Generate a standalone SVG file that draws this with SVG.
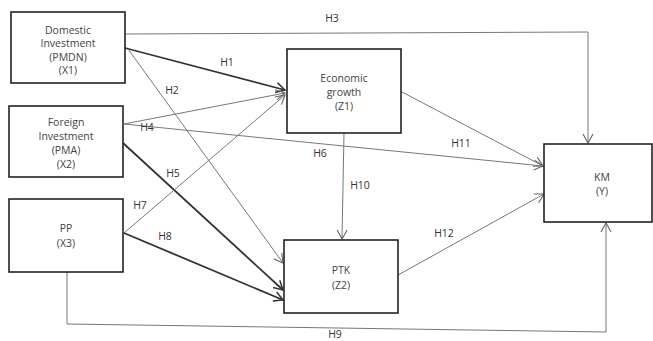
<svg xmlns="http://www.w3.org/2000/svg" width="653" height="341" viewBox="0 0 653 341">
<style>
.box{fill:#fff;stroke:#222;stroke-width:1.6}
.t{font-family:"Open Sans","Liberation Sans",sans-serif;font-size:10.5px;fill:#444;text-anchor:middle}
.l{font-family:"Open Sans","Liberation Sans",sans-serif;font-size:10.5px;fill:#333;text-anchor:middle}
.thin{fill:none;stroke:#777;stroke-width:1}
.thick{fill:none;stroke:#333;stroke-width:1.8}
</style>
<defs>
<marker id="a" markerWidth="12" markerHeight="12" refX="10" refY="6" orient="auto" markerUnits="userSpaceOnUse">
<path d="M1,1 L10,6 L1,11" fill="none" stroke="#666" stroke-width="1.1"/>
</marker>
<marker id="ak" markerWidth="12" markerHeight="12" refX="10" refY="6" orient="auto" markerUnits="userSpaceOnUse">
<path d="M1,1 L10,6 L1,11" fill="none" stroke="#333" stroke-width="1.5"/>
</marker>
</defs>
<g id="connectors">
<polyline class="thin" points="125,34 588,32 588,143" marker-end="url(#a)"/>
<line class="thick" x1="125" y1="48" x2="285" y2="90" marker-end="url(#ak)"/>
<line class="thin" x1="128" y1="49" x2="283" y2="263" marker-end="url(#a)"/>
<line class="thin" x1="124" y1="124" x2="285" y2="93" marker-end="url(#a)"/>
<line class="thin" x1="124" y1="124" x2="543" y2="166" marker-end="url(#a)"/>
<line class="thick" x1="123" y1="143" x2="283" y2="290" marker-end="url(#ak)"/>
<line class="thin" x1="124" y1="233" x2="285" y2="95" marker-end="url(#a)"/>
<line class="thick" x1="124" y1="233" x2="283" y2="300" marker-end="url(#ak)"/>
<polyline class="thin" points="67,272 67,324 606,332 606,223" marker-end="url(#a)"/>
<line class="thin" x1="344" y1="133" x2="342" y2="239" marker-end="url(#a)"/>
<line class="thin" x1="402" y1="92" x2="543" y2="166" marker-end="url(#a)"/>
<line class="thin" x1="398" y1="275" x2="544" y2="194" marker-end="url(#a)"/>
<text class="l" x="227" y="66">H1</text>
<text class="l" x="172" y="94">H2</text>
<text class="l" x="332" y="22">H3</text>
<text class="l" x="147" y="131">H4</text>
<text class="l" x="173" y="177">H5</text>
<text class="l" x="320" y="157">H6</text>
<text class="l" x="140" y="209">H7</text>
<text class="l" x="165" y="240">H8</text>
<text class="l" x="335" y="338">H9</text>
<text class="l" x="360" y="189">H10</text>
<text class="l" x="461" y="147">H11</text>
<text class="l" x="444" y="237">H12</text>
</g>
<g id="X1">
<rect class="box" x="11" y="12" width="114" height="71"/>
<text class="t" x="68" y="34">Domestic</text>
<text class="t" x="68" y="47">Investment</text>
<text class="t" x="68" y="61">(PMDN)</text>
<text class="t" x="68" y="74">(X1)</text>
</g>
<g id="X2">
<rect class="box" x="9" y="106" width="114" height="71"/>
<text class="t" x="66" y="126">Foreign</text>
<text class="t" x="66" y="140">Investment</text>
<text class="t" x="66" y="154">(PMA)</text>
<text class="t" x="66" y="168">(X2)</text>
</g>
<g id="X3">
<rect class="box" x="9" y="199" width="114" height="73"/>
<text class="t" x="66" y="232">PP</text>
<text class="t" x="66" y="247">(X3)</text>
</g>
<g id="Z1">
<rect class="box" x="287" y="49" width="114" height="84"/>
<text class="t" x="344" y="82">Economic</text>
<text class="t" x="344" y="96">growth</text>
<text class="t" x="344" y="110">(Z1)</text>
</g>
<g id="Z2">
<rect class="box" x="284" y="240" width="114" height="73"/>
<text class="t" x="341" y="274">PTK</text>
<text class="t" x="341" y="289">(Z2)</text>
</g>
<g id="Y">
<rect class="box" x="544" y="144" width="108" height="78"/>
<text class="t" x="602" y="181">KM</text>
<text class="t" x="602" y="195">(Y)</text>
</g>
</svg>
